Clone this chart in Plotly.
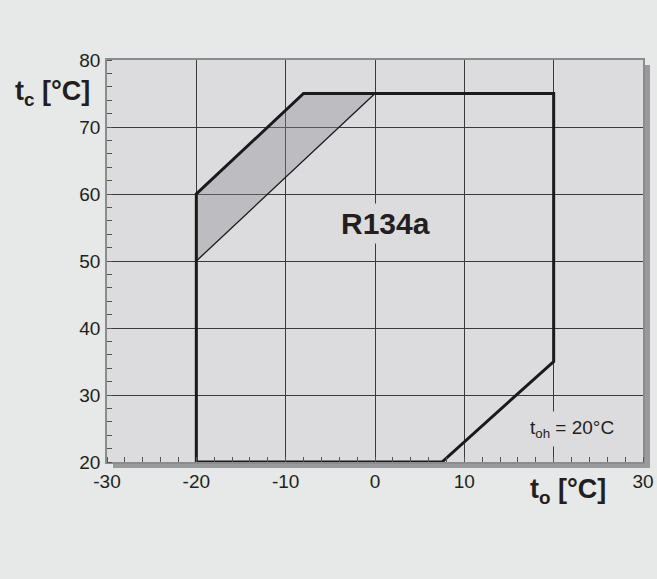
import plotly.graph_objects as go

# ---- data ----
envelope_to = [-20, -20, -8, 20, 20, 7.5, -20]
envelope_tc = [20, 60, 75, 75, 35, 20, 20]
shaded_to = [-20, -8, 0, -20]
shaded_tc = [60, 75, 75, 50]
inner_to = [-20, 0]
inner_tc = [50, 75]

x_tickvals = [-30, -20, -10, 0, 10, 20, 30]
x_ticktext = ["-30", "-20", "-10", "0", "10", "", "30"]
y_tickvals = [20, 30, 40, 50, 60, 70, 80]
y_ticktext = ["20", "30", "40", "50", "60", "70", "80"]

refrigerant = "R134a"
toh_label = "t<sub>oh</sub> = 20°C"

FONT = "Liberation Sans, Arial, Helvetica, sans-serif"
TXT = "#231f20"
PLOTBG = "#dcdcde"

fig = go.Figure()

fig.add_trace(go.Scatter(
    x=shaded_to, y=shaded_tc, fill="toself", mode="lines",
    fillcolor="rgba(140,140,146,0.38)", line=dict(width=0),
    hoverinfo="skip", showlegend=False))
fig.add_trace(go.Scatter(
    x=inner_to, y=inner_tc, mode="lines",
    line=dict(color="#1a1a1a", width=1.3), showlegend=False))
fig.add_trace(go.Scatter(
    x=envelope_to, y=envelope_tc, mode="lines",
    line=dict(color="#1a1a1a", width=3), showlegend=False,
    cliponaxis=False))

axis_common = dict(
    showgrid=True, gridcolor="#3a3a3a", gridwidth=1,
    showline=True, linecolor="#8c8c8c", linewidth=1.5, mirror=True,
    zeroline=False, automargin=False,
    tickfont=dict(family=FONT, size=19, color=TXT),
    tickcolor="rgba(0,0,0,0)",
    ticks="outside",
    minor=dict(ticks="inside", dtick=2, ticklen=5, tickcolor="#555555",
               tickwidth=1, showgrid=False),
)

fig.update_xaxes(range=[-30, 30], tickmode="array", tickvals=x_tickvals,
                 ticktext=x_ticktext, ticklen=1, **axis_common)
fig.update_yaxes(range=[20, 80], tickmode="array", tickvals=y_tickvals,
                 ticktext=y_ticktext, ticklen=1, **axis_common)

# drop shadow of the plot frame
fig.add_shape(type="rect", xref="paper", yref="paper",
              x0=1.0, x1=1.0131, y0=-0.0149, y1=0.9876,
              fillcolor="#9a9a9c", line=dict(width=0), layer="below")
fig.add_shape(type="rect", xref="paper", yref="paper",
              x0=0.0112, x1=1.0131, y0=-0.0149, y1=0.0,
              fillcolor="#9a9a9c", line=dict(width=0), layer="below")

fig.add_annotation(x=1.2, y=55.6, xref="x", yref="y", text=f"<b>{refrigerant}</b>",
                   showarrow=False, font=dict(family=FONT, size=30, color=TXT),
                   bgcolor=PLOTBG, borderpad=3)
fig.add_annotation(x=22.1, y=24.9, xref="x", yref="y", text=toh_label,
                   showarrow=False, font=dict(family=FONT, size=19, color=TXT),
                   bgcolor=PLOTBG, borderpad=5)

fig.add_annotation(x=-0.1754, y=0.918, xref="paper", yref="paper",
                   xanchor="left", yanchor="middle",
                   text="<b>t<sub>c</sub> [°C]</b>", showarrow=False,
                   font=dict(family=FONT, size=27, color=TXT))
fig.add_annotation(x=0.7854, y=-0.072, xref="paper", yref="paper",
                   xanchor="left", yanchor="middle",
                   text="<b>t<sub>o</sub> [°C]</b>", showarrow=False,
                   font=dict(family=FONT, size=27, color=TXT))

fig.update_layout(
    width=657, height=579, autosize=False,
    margin=dict(l=107, r=14, t=60, b=117, autoexpand=False),
    paper_bgcolor="#e7e8e8", plot_bgcolor=PLOTBG,
    showlegend=False,
)

fig.write_html("out.html", config={"displayModeBar": False},
               post_script="document.body.style.margin='0';document.body.style.overflow='hidden';")
